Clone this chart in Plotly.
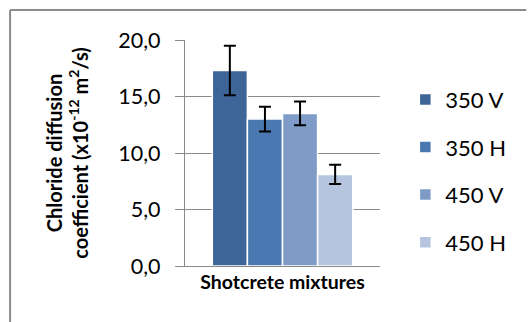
import plotly.graph_objects as go

series = ["350 V", "350 H", "450 V", "450 H"]
values = [17.3, 13.0, 13.5, 8.1]
errors = [2.2, 1.1, 1.05, 0.85]
colors = ["#3E6597", "#4A79B1", "#7F9CC8", "#B5C5E0"]
category = [""]
y_ticks = [0, 5, 10, 15, 20]

fig = go.Figure()
for i, name in enumerate(series):
    fig.add_trace(go.Bar(
        x=category, y=[values[i]], name=name,
        marker=dict(color=colors[i], line=dict(color="white", width=1.5)),
        error_y=dict(type="data", array=[errors[i]], color="black", thickness=2, width=6),
        legendgroup=name,
    ))

fig.update_layout(
    width=528, height=322,
    margin=dict(l=185, r=148, t=40, b=56, autoexpand=False),
    paper_bgcolor="white", plot_bgcolor="white",
    barmode="group", bargap=0.28, bargroupgap=0,
    separators=",.",
    font=dict(family="Lato, Open Sans, sans-serif", color="black"),
    showlegend=True,
    legend=dict(x=1.13, xanchor="left", y=0.42, yanchor="middle",
                font=dict(size=22), tracegroupgap=16, traceorder="grouped",
                bgcolor="rgba(0,0,0,0)"),
    shapes=[
        dict(type="line", xref="paper", yref="paper",
             x0=-0.897, x1=1.75, y0=1.1327, y1=1.1327,
             line=dict(color="#8C8C8C", width=2), layer="below"),
        dict(type="line", xref="paper", yref="paper",
             x0=-0.897, x1=-0.897, y0=-0.25, y1=1.1327,
             line=dict(color="#8C8C8C", width=2), layer="below"),
    ],
)
fig.update_yaxes(range=[0, 20], tickvals=y_ticks, tickformat=".1f",
                 showgrid=True, gridcolor="#8A8A8A", gridwidth=1.3,
                 ticks="outside", ticklen=9, tickcolor="#8A8A8A", tickwidth=1.3,
                 showline=True, linecolor="#8A8A8A", linewidth=1.3,
                 zeroline=False, ticklabelstandoff=10,
                 tickfont=dict(size=21.5),
                 title=dict(text="<b>Chloride diffusion<br>coefficient (x10<sup>-12</sup> m<sup>2</sup>/s)</b>",
                            font=dict(size=20), standoff=24))
fig.update_xaxes(showticklabels=False, showline=True, linecolor="#8A8A8A", linewidth=1.3,
                 title=dict(text="<b>Shotcrete mixtures</b>", font=dict(size=19.5), standoff=9))

fig.write_html("out.html", config={"displayModeBar": False},
               post_script=("document.documentElement.style.overflow='hidden';"
                            "document.body.style.overflow='hidden';"
                            "document.body.style.margin='0';"))
